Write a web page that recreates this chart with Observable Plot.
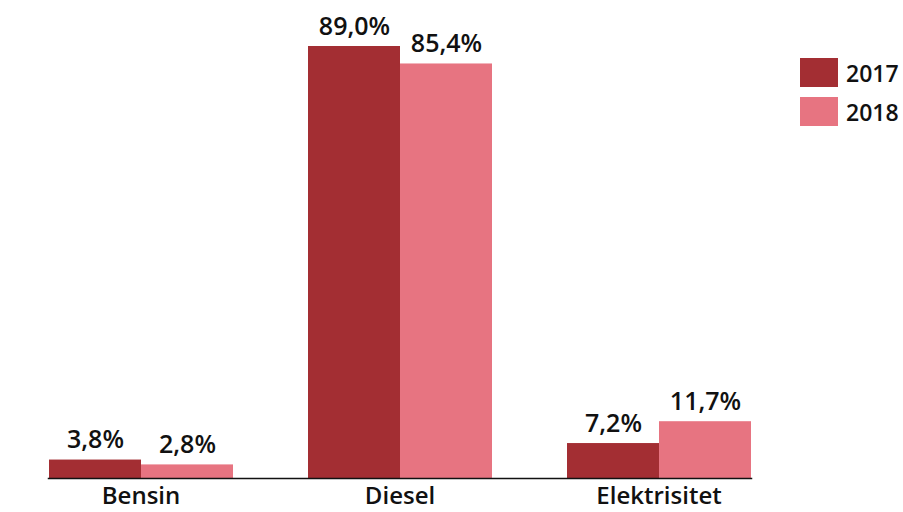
<!DOCTYPE html>
<html>
<head>
<meta charset="utf-8">
<script src="https://cdn.jsdelivr.net/npm/d3@7"></script>
<script src="https://cdn.jsdelivr.net/npm/@observablehq/plot@0.6"></script>
<style>
  body { margin: 0; background: #fff; font-family: "Open Sans", sans-serif; }
  #wrap { position: relative; width: 903px; height: 512px; }
  #legend { position: absolute; left: 800px; top: 58px; }
  .item { display: flex; align-items: center; height: 29px; margin-bottom: 10px; }
  .sw { width: 38px; height: 29px; margin-right: 8px; }
  .lab { font-size: 23px; font-weight: 600; color: #111; }
</style>
</head>
<body>
<div id="wrap"><div id="legend"></div></div>
<script>
const categories = ["Bensin", "Diesel", "Elektrisitet"];
const years = ["2017", "2018"];
const values2017 = [3.8, 89.0, 7.2];
const values2018 = [2.8, 85.4, 11.7];
const colors = ["#a32e33", "#e77481"];

const data = categories.flatMap((c, i) => [
  {category: c, year: years[0], value: values2017[i]},
  {category: c, year: years[1], value: values2018[i]}
]);
const fmt = v => v.toFixed(1).replace(".", ",") + "%";

const chart = Plot.plot({
  width: 903,
  height: 512,
  marginLeft: 10,
  marginRight: 115,
  marginTop: 46,
  marginBottom: 34,
  style: {fontFamily: "Open Sans, sans-serif", color: "#111"},
  fx: {domain: categories, paddingInner: 0.287, paddingOuter: 0.1435, label: null},
  x: {domain: years, padding: 0, axis: null},
  y: {domain: [0, 89], axis: null},
  color: {domain: years, range: colors},
  marks: [
    Plot.axisFx({anchor: "bottom", tickSize: 0, tickPadding: 8, fontSize: 24, fontWeight: 600, label: null}),
    Plot.barY(data, {fx: "category", x: "year", y: "value", fill: "year"}),
    Plot.text(data, {fx: "category", x: "year", y: "value", text: d => fmt(d.value),
      dy: -20, fontSize: 25, fontWeight: 600, fill: "#111"}),
    // one baseline across all groups
    Plot.frame({anchor: "bottom", facet: "super", stroke: "#111", strokeWidth: 1.5})
  ]
});
document.getElementById("wrap").prepend(chart);

const legend = d3.select("#legend");
years.forEach((y, i) => {
  const item = legend.append("div").attr("class", "item");
  item.append("div").attr("class", "sw").style("background", colors[i]);
  item.append("div").attr("class", "lab").text(y);
});
</script>
</body>
</html>
